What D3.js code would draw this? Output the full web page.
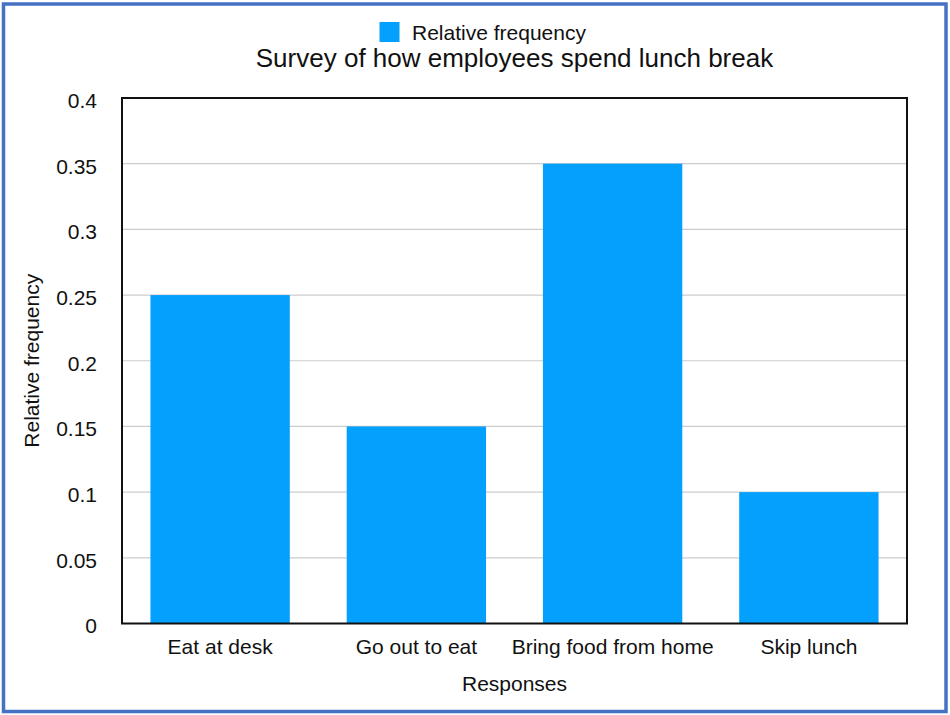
<!DOCTYPE html>
<html>
<head>
<meta charset="utf-8">
<script src="https://cdn.jsdelivr.net/npm/d3@7"></script>
<style>
    body { margin: 0; background: #ffffff; }
    text { font-family: "Liberation Sans", Arial, Helvetica, sans-serif; fill: #111111; }
</style>
</head>
<body>
<div id="chart"></div>
<script>
//-------------------------------------------------------
// data
//-------------------------------------------------------
const responses = ["Eat at desk", "Go out to eat", "Bring food from home", "Skip lunch"];
const relativeFrequency = [0.25, 0.15, 0.35, 0.1];
const yTicks = [0, 0.05, 0.1, 0.15, 0.2, 0.25, 0.3, 0.35, 0.4];
const seriesName = "Relative frequency";
const chartTitle = "Survey of how employees spend lunch break";
const xTitle = "Responses";
const yTitle = "Relative frequency";

//-------------------------------------------------------
// properties
//-------------------------------------------------------
let properties = {
    width: 950,
    height: 715,
    margin: {
        top: 98,
        right: 43,
        bottom: 91.5,
        left: 122
    },
    color: {
        bar: "#04a0fe",
        grid: "#cccccc",
        axis: "#111111",
        frame: "#4672c4"
    },
    fontSize: 21
}

properties.boundedWidth = properties.width - properties.margin.left - properties.margin.right;
properties.boundedHeight = properties.height - properties.margin.top - properties.margin.bottom;

//add svg and bounds
const svg = d3.select("#chart")
    .append("svg")
    .attr("width", properties.width)
    .attr("height", properties.height);

// blue frame round the picture
svg.append("rect")
    .attr("x", 3.5)
    .attr("y", 4)
    .attr("width", 942.5)
    .attr("height", 707.5)
    .attr("fill", "none")
    .attr("stroke", properties.color.frame)
    .attr("stroke-width", 3.5);

const bounds = svg.append("g")
    .attr("id", "bounds")
    .attr("transform", `translate(${properties.margin.left},${properties.margin.top})`);

// scales
const xScale = d3.scaleBand()
    .domain(responses)
    .range([0, properties.boundedWidth])
    .paddingInner(0.29)
    .paddingOuter(0.145);

const yScale = d3.scaleLinear()
    .domain([0, 0.4])
    .range([properties.boundedHeight, 0]);

// gridlines
bounds.append("g")
    .attr("id", "grid")
    .selectAll("line")
    .data(yTicks.filter(d => d > 0 && d < 0.4))
    .enter()
    .append("line")
    .attr("x1", 0)
    .attr("x2", properties.boundedWidth)
    .attr("y1", d => yScale(d))
    .attr("y2", d => yScale(d))
    .attr("stroke", properties.color.grid)
    .attr("stroke-width", 1.2);

// bars
bounds.append("g")
    .attr("id", "bars")
    .selectAll("rect")
    .data(responses)
    .enter()
    .append("rect")
    .attr("x", d => xScale(d))
    .attr("y", (d, i) => yScale(relativeFrequency[i]))
    .attr("width", xScale.bandwidth())
    .attr("height", (d, i) => properties.boundedHeight - yScale(relativeFrequency[i]))
    .attr("fill", properties.color.bar);

// y axis labels
const yAxis = bounds.append("g")
    .attr("id", "y-axis")
    .call(d3.axisLeft(yScale).tickValues(yTicks).tickSize(0).tickPadding(25).tickFormat(d => String(+d.toFixed(2))));
yAxis.select(".domain").remove();
yAxis.selectAll("text")
    .attr("font-size", properties.fontSize)
    .attr("dy", "0.45em");

// x axis labels
const xAxis = bounds.append("g")
    .attr("id", "x-axis")
    .attr("transform", `translate(0,${properties.boundedHeight})`)
    .call(d3.axisBottom(xScale).tickSize(0).tickPadding(16));
xAxis.select(".domain").remove();
xAxis.selectAll("text")
    .attr("font-size", properties.fontSize);

// plot frame
bounds.append("rect")
    .attr("width", properties.boundedWidth)
    .attr("height", properties.boundedHeight)
    .attr("fill", "none")
    .attr("stroke", properties.color.axis)
    .attr("stroke-width", 2);

// axis titles
svg.append("text")
    .attr("x", properties.margin.left + properties.boundedWidth / 2)
    .attr("y", 691)
    .attr("text-anchor", "middle")
    .attr("font-size", properties.fontSize)
    .text(xTitle);

svg.append("text")
    .attr("transform", `translate(38.5,${properties.margin.top + properties.boundedHeight / 2}) rotate(-90)`)
    .attr("text-anchor", "middle")
    .attr("font-size", properties.fontSize)
    .text(yTitle);

// title
svg.append("text")
    .attr("x", 514.5)
    .attr("y", 67)
    .attr("text-anchor", "middle")
    .attr("font-size", 26)
    .text(chartTitle);

// legend
const legend = svg.append("g")
    .attr("id", "legend");
legend.append("rect")
    .attr("x", 379.5)
    .attr("y", 22)
    .attr("width", 20)
    .attr("height", 20)
    .attr("fill", properties.color.bar);
legend.append("text")
    .attr("x", 412)
    .attr("y", 39.5)
    .attr("font-size", properties.fontSize)
    .text(seriesName);
</script>
</body>
</html>
